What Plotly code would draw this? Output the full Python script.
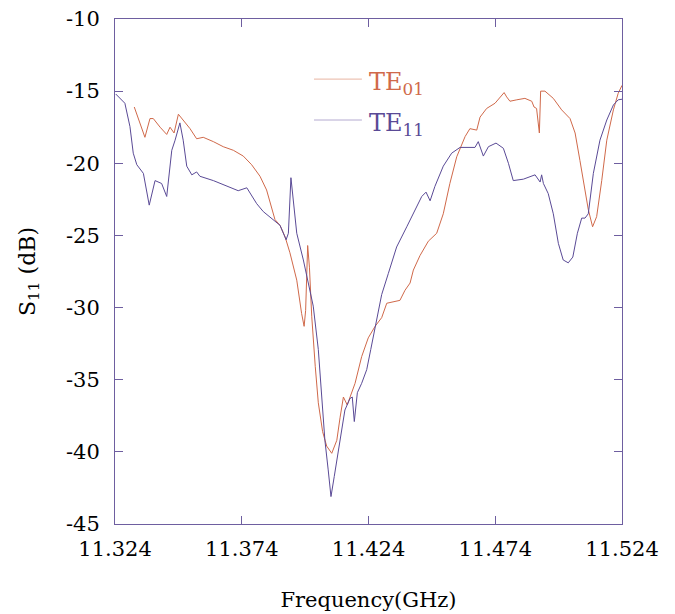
import plotly.graph_objects as go

te01_freq = [11.3316, 11.3339, 11.3358, 11.3378, 11.3391, 11.3418, 11.3444, 11.3457, 11.3473, 11.3490,
             11.3509, 11.3536, 11.3562, 11.3588, 11.3628, 11.3667, 11.3707, 11.3746, 11.3779, 11.3812,
             11.3838, 11.3858, 11.3871, 11.3891, 11.3911, 11.3930, 11.3957, 11.3976, 11.3986, 11.3992,
             11.4000, 11.4007, 11.4016, 11.4030, 11.4042, 11.4059, 11.4075, 11.4095, 11.4115, 11.4128,
             11.4141, 11.4156, 11.4167, 11.4187, 11.4213, 11.4239, 11.4266, 11.4292, 11.4312, 11.4338,
             11.4364, 11.4384, 11.4404, 11.4417, 11.4443, 11.4476, 11.4509, 11.4535, 11.4561, 11.4588,
             11.4621, 11.4640, 11.4667, 11.4680, 11.4706, 11.4739, 11.4759, 11.4775, 11.4785, 11.4798,
             11.4825, 11.4857, 11.4884, 11.4893, 11.4903, 11.4914, 11.4919, 11.4936, 11.4969, 11.5002,
             11.5035, 11.5055, 11.5074, 11.5094, 11.5107, 11.5124, 11.5140, 11.5160, 11.5180, 11.5206,
             11.5225, 11.5240]
te01_s11 = [-16.1, -17.2, -18.2, -16.9, -16.9, -17.5, -18.0, -17.5, -17.9, -16.6,
            -17.0, -17.6, -18.3, -18.2, -18.5, -18.85, -19.1, -19.5, -20.1, -20.9,
            -21.85, -23.0, -23.9, -24.3, -25.1, -26.2, -28.1, -30.4, -31.3, -30.2,
            -25.7, -27.2, -30.6, -34.1, -36.6, -38.6, -39.6, -40.1, -39.2, -37.6,
            -36.2, -36.75, -36.2, -35.25, -33.4, -32.1, -31.3, -30.7, -29.7, -29.6,
            -29.5, -28.8, -28.3, -27.4, -26.4, -25.4, -24.85, -23.5, -21.4, -19.55,
            -18.15, -17.6, -17.7, -16.8, -16.2, -15.84, -15.4, -15.1, -15.4, -15.7,
            -15.6, -15.5, -15.7, -16.1, -16.2, -17.9, -15.0, -15.0, -15.5, -16.3,
            -16.9, -17.9, -19.8, -21.85, -23.2, -24.4, -23.7, -21.2, -18.4, -16.3,
            -15.15, -14.6]

te11_freq = [11.3243, 11.3279, 11.3299, 11.3312, 11.3326, 11.3352, 11.3375, 11.3398, 11.3424, 11.3444,
             11.3464, 11.3477, 11.3496, 11.3509, 11.3523, 11.3543, 11.3562, 11.3575, 11.3628, 11.3681,
             11.3726, 11.3760, 11.3799, 11.3825, 11.3864, 11.3891, 11.3915, 11.3924, 11.3934, 11.3943,
             11.3957, 11.3983, 11.4003, 11.4022, 11.4042, 11.4055, 11.4068, 11.4081, 11.4092, 11.4105,
             11.4117, 11.4130, 11.4147, 11.4167, 11.4176, 11.4184, 11.4196, 11.4213, 11.4233, 11.4249,
             11.4266, 11.4292, 11.4318, 11.4351, 11.4391, 11.4430, 11.4450, 11.4467, 11.4483, 11.4502,
             11.4535, 11.4568, 11.4601, 11.4660, 11.4673, 11.4693, 11.4713, 11.4743, 11.4772, 11.4792,
             11.4811, 11.4851, 11.4897, 11.4917, 11.4923, 11.4930, 11.4949, 11.4969, 11.4989, 11.5008,
             11.5028, 11.5046, 11.5064, 11.5081, 11.5094, 11.5107, 11.5127, 11.5153, 11.5180, 11.5206,
             11.5225, 11.5240]
te11_s11 = [-15.2, -15.84, -17.46, -19.3, -20.1, -20.7, -22.9, -21.2, -21.4, -22.3,
            -19.1, -18.4, -17.2, -18.4, -20.2, -20.8, -20.6, -20.9, -21.2, -21.6,
            -21.9, -21.7, -22.8, -23.35, -23.9, -24.3, -25.3, -24.85, -21.0, -22.5,
            -24.85, -26.7, -28.3, -29.9, -32.9, -36.4, -39.2, -41.25, -43.1, -41.7,
            -40.3, -38.8, -37.1, -36.3, -36.2, -37.9, -35.9, -35.25, -34.3, -32.9,
            -31.3, -29.1, -27.65, -25.8, -24.4, -23.0, -22.3, -22.0, -22.6, -21.6,
            -20.2, -19.3, -18.9, -18.9, -18.5, -19.5, -18.85, -18.6, -18.96, -20.0,
            -21.2, -21.1, -20.8, -21.3, -20.8, -21.4, -22.1, -23.5, -25.55, -26.7,
            -26.9, -26.5, -24.85, -23.8, -23.8, -23.5, -20.7, -18.4, -17.0, -15.96,
            -15.6, -15.56]

x_ticks = [11.324, 11.374, 11.424, 11.474, 11.524]
y_ticks = [-10, -15, -20, -25, -30, -35, -40, -45]
series_names = ["TE<sub>01</sub>", "TE<sub>11</sub>"]

c01 = "#d0694a"
c11 = "#5a4a96"
leg_line_cols = ["#e8b4a2", "#b4aad0"]
axis_col = "#6e5ea0"
serif = "DejaVu Serif"

fig = go.Figure()
fig.add_trace(go.Scatter(x=te01_freq, y=te01_s11, mode="lines",
                         line=dict(color=c01, width=1), name="TE01", showlegend=False))
fig.add_trace(go.Scatter(x=te11_freq, y=te11_s11, mode="lines",
                         line=dict(color=c11, width=1), name="TE11", showlegend=False))

# legend drawn as lines + labels in paper coordinates
leg_y_line = [0.881, 0.800]
leg_y_text = [0.872, 0.791]
for name, col, lcol, yl, yt in zip(series_names, [c01, c11], leg_line_cols, leg_y_line, leg_y_text):
    fig.add_shape(type="line", xref="paper", yref="paper", x0=0.3925, x1=0.487, y0=yl, y1=yl,
                  line=dict(color=lcol, width=1))
    fig.add_annotation(xref="paper", yref="paper", x=0.497, y=yt, xanchor="left", yanchor="middle",
                       text=name, showarrow=False, font=dict(family=serif, size=24, color=col))

fig.update_layout(
    width=675, height=614,
    margin=dict(l=115, r=53, t=19, b=90, autoexpand=False),
    paper_bgcolor="white", plot_bgcolor="white",
    font=dict(family=serif, size=21, color="black"),
    showlegend=False,
)
fig.update_xaxes(range=[11.324, 11.524], tickvals=x_ticks,
                 ticktext=["%.3f" % v for v in x_ticks],
                 ticks="inside", ticklen=8, tickcolor=axis_col,
                 showline=True, linecolor=axis_col, linewidth=1, mirror="ticks",
                 showgrid=False, zeroline=False, ticklabelstandoff=6, automargin=False,
                 tickfont=dict(family=serif, size=21),
                 title=dict(text="Frequency(GHz)", font=dict(family=serif, size=21), standoff=32))
fig.update_yaxes(range=[-45, -10], tickvals=y_ticks,
                 ticktext=["%d" % v for v in y_ticks],
                 ticks="inside", ticklen=8, tickcolor=axis_col,
                 showline=True, linecolor=axis_col, linewidth=1, mirror="ticks",
                 showgrid=False, zeroline=False, ticklabelstandoff=10, automargin=False,
                 tickfont=dict(family=serif, size=21),
                 title=dict(text="S<sub>11</sub> (dB)", font=dict(family=serif, size=22), standoff=24))

fig.write_html("out.html")
